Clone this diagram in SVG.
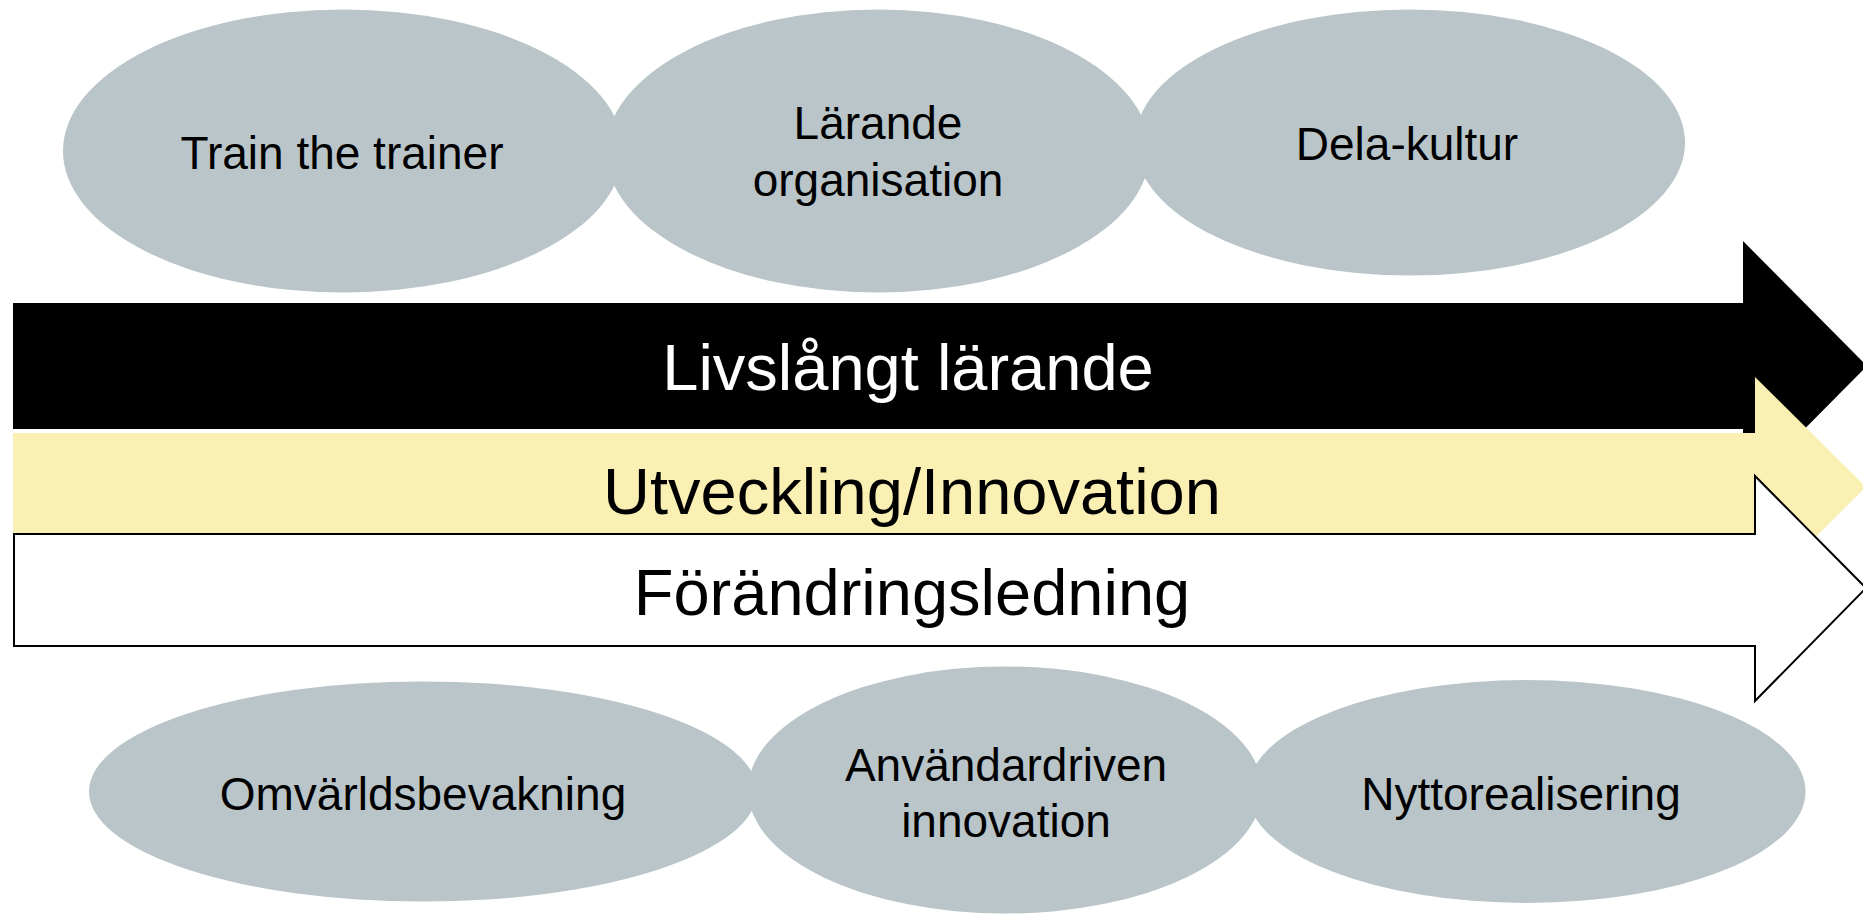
<svg xmlns="http://www.w3.org/2000/svg" width="1863" height="914" viewBox="0 0 1863 914">
  <style>
    .ell { fill: #B9C5C9; stroke: none; }
    .lbl { font-family: "Liberation Sans", Arial, sans-serif; font-size: 46px; fill: #000; text-anchor: middle; }
    .band { font-family: "Liberation Sans", Arial, sans-serif; font-size: 65px; text-anchor: middle; }
  </style>
  <rect x="0" y="0" width="1863" height="914" fill="#ffffff"/>
  <g id="connectors">
    <g id="arrow-livslangt">
      <polygon points="13,303 1743,303 1743,241 1867,366 1743,491 1743,429 13,429" fill="#000000"/>
      <text class="band" x="908" y="390" fill="#ffffff">Livslångt lärande</text>
    </g>
    <g id="arrow-utveckling">
      <polygon points="13,433 1755,433 1755,377 1866,487 1755,597 1755,533 13,533" fill="#FAF0B4"/>
      <text class="band" x="912" y="514" fill="#000000">Utveckling/Innovation</text>
    </g>
    <g id="arrow-forandring">
      <polygon points="14,534 1755,534 1755,476 1866,588 1755,701 1755,646 14,646" fill="#ffffff" stroke="#000000" stroke-width="2"/>
      <text class="band" x="912" y="615" fill="#000000">Förändringsledning</text>
    </g>
  </g>
  <g id="node-train">
    <ellipse class="ell" cx="343" cy="151" rx="280" ry="141.5"/>
    <text class="lbl" x="342" y="169">Train the trainer</text>
  </g>
  <g id="node-larande">
    <ellipse class="ell" cx="878" cy="151" rx="272" ry="141.5"/>
    <text class="lbl" x="878" y="139">Lärande</text>
    <text class="lbl" x="878" y="196">organisation</text>
  </g>
  <g id="node-dela">
    <ellipse class="ell" cx="1410" cy="142.5" rx="275" ry="133"/>
    <text class="lbl" x="1407" y="160">Dela-kultur</text>
  </g>
  <g id="node-omvarld">
    <ellipse class="ell" cx="423" cy="791.5" rx="334" ry="110"/>
    <text class="lbl" x="423" y="810">Omvärldsbevakning</text>
  </g>
  <g id="node-anvandar">
    <ellipse class="ell" cx="1005" cy="790" rx="257" ry="123.5"/>
    <text class="lbl" x="1006" y="781">Användardriven</text>
    <text class="lbl" x="1006" y="837">innovation</text>
  </g>
  <g id="node-nytto">
    <ellipse class="ell" cx="1526.5" cy="791.5" rx="279" ry="111.5"/>
    <text class="lbl" x="1521" y="810">Nyttorealisering</text>
  </g>
</svg>
